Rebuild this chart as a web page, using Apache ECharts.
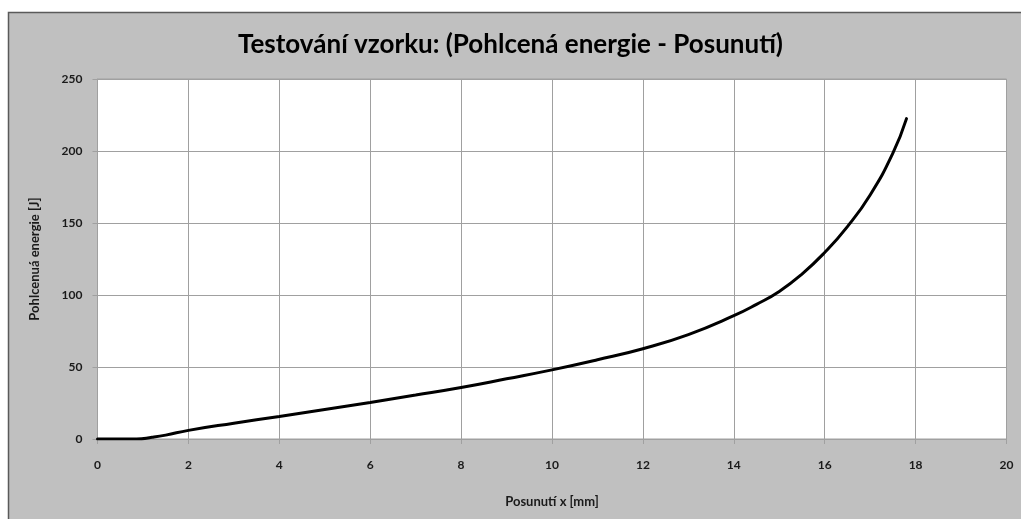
<!DOCTYPE html>
<html>
<head>
<meta charset="utf-8">
<script src="https://cdn.jsdelivr.net/npm/echarts@6/dist/echarts.min.js"></script>
<style>
  html, body { margin: 0; padding: 0; background: #fff; }
  #chartmain { width: 1021px; height: 519px; }
</style>
</head>
<body>
<div id="chartmain"></div>
<script>
// posunutí x [mm] a pohlcená energie [J]
var posunuti = [0, 0.5, 0.86, 1.2, 1.5, 2, 3, 4, 5, 6, 7, 8, 9, 10, 11, 12, 13, 14, 14.5, 15, 15.5, 16, 16.5, 17, 17.5, 17.8];
var energie  = [0, 0, 0, 1.2, 2.7, 6, 11, 15.7, 20.5, 25.4, 30.5, 35.8, 41.8, 48, 55, 62.7, 72.5, 85.6, 93.5, 102.5, 114.5, 129.5, 147.5, 169.5, 198.5, 222.5];

var data = [];
for (var i = 0; i < posunuti.length; i++) {
    data.push([posunuti[i], energie[i]]);
}

var gridCol = '#a0a0a0';
var labelFont = { color: '#1a1a1a', fontFamily: 'Lato', fontWeight: 'bold', fontSize: 12 };

var option = {
    animation: false,
    backgroundColor: '#fff',
    graphic: [{
        type: 'rect',
        z: -10,
        silent: true,
        shape: { x: 8.5, y: 12.5, width: 1100, height: 600 },
        style: { fill: '#c0c0c0', stroke: '#5a5a5a', lineWidth: 1.5 }
    }],
    title: {
        text: 'Testování vzorku: (Pohlcená energie - Posunutí)',
        left: 'center',
        top: 27,
        textStyle: { fontFamily: 'Lato', fontWeight: 'bold', fontSize: 26, color: '#000' }
    },
    grid: {
        left: 97.5,
        right: 14.5,
        top: 79,
        bottom: 80,
        show: true,
        backgroundColor: '#fff',
        borderColor: gridCol,
        borderWidth: 1
    },
    xAxis: {
        type: 'value',
        min: 0,
        max: 20,
        interval: 2,
        name: 'Posunutí x [mm]',
        nameLocation: 'middle',
        nameGap: 56,
        nameTextStyle: { color: '#1a1a1a', fontFamily: 'Lato', fontWeight: 'bold', fontSize: 13 },
        axisLine: { lineStyle: { color: gridCol } },
        axisTick: { show: true, length: 5, lineStyle: { color: gridCol } },
        axisLabel: Object.assign({ margin: 20 }, labelFont),
        splitLine: { show: true, lineStyle: { color: gridCol, width: 1 } }
    },
    yAxis: {
        type: 'value',
        min: 0,
        max: 250,
        interval: 50,
        name: 'Pohlcenuá energie [J]',
        nameLocation: 'middle',
        nameGap: 56,
        nameTextStyle: { color: '#1a1a1a', fontFamily: 'Lato', fontWeight: 'bold', fontSize: 13 },
        axisLine: { show: true, lineStyle: { color: gridCol } },
        axisTick: { show: true, length: 5, lineStyle: { color: gridCol } },
        axisLabel: Object.assign({ margin: 15 }, labelFont),
        splitLine: { show: true, lineStyle: { color: gridCol, width: 1 } }
    },
    series: [{
        type: 'line',
        data: data,
        smooth: 0.5,
        showSymbol: false,
        lineStyle: { color: '#000', width: 3, cap: 'round' }
    }]
};

var myChart = echarts.init(document.getElementById('chartmain'));
myChart.setOption(option);
</script>
</body>
</html>
